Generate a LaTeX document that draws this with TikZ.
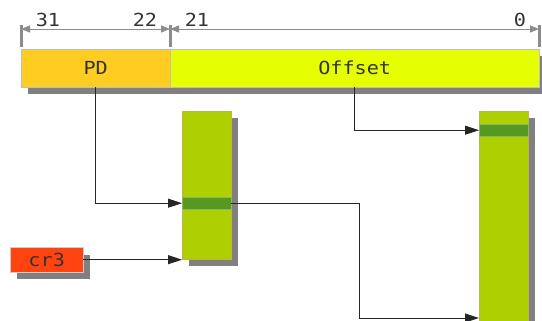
\documentclass[tikz,border=0pt]{standalone}
\usepackage{fontspec}
\setmonofont[FakeStretch=1.12]{DejaVu Sans Mono}
\usetikzlibrary{arrows.meta,shadows}
\definecolor{pdcol}{HTML}{FFCC22}
\definecolor{offcol}{HTML}{E5FF00}
\definecolor{tabcol}{HTML}{AFD000}
\definecolor{entcol}{HTML}{559922}
\definecolor{regcol}{HTML}{FF4411}
\definecolor{shadowcol}{HTML}{808080}
\definecolor{textcol}{HTML}{333333}
\begin{document}
\begin{tikzpicture}[x=1pt,y=-1pt]
        \tikzstyle{every node}=[inner sep=0pt, font=\ttfamily\fontsize{18}{18}\selectfont, text=textcol];
        \tikzstyle{box}=[draw=black!25, anchor=north west, general shadow={fill=shadowcol, shadow xshift=7pt, shadow yshift=-7pt}];
        \tikzstyle{entry}=[fill=entcol, draw=entcol!70!white, anchor=north west, minimum width=49pt, minimum height=12pt];
        \tikzstyle{dim}=[draw=black!45, line width=0.9pt, {Triangle[length=9pt,width=7pt]}-{Triangle[length=9pt,width=7pt]}];
        \tikzstyle{tick}=[draw=black!45, line width=3pt];
        \tikzstyle{link}=[draw=black!85, line width=0.9pt, -{Triangle[length=14pt,width=9pt]}];
        \useasboundingbox (0,0) rectangle (542,321);

        \coordinate (b31) at (21,29);
        \coordinate (b22) at (170,29);
        \coordinate (b0) at (539,29);
        \draw[tick] (b31) ++(0,-4) -- ++(0,22);
        \draw[tick] (b22) ++(0,-4) -- ++(0,22);
        \draw[tick] (b0) ++(0,-4) -- ++(0,22);
        \draw[dim] (b31) -- (b22);
        \draw[dim] (b22) -- (b0);
        \node (n31) at (48,20) {31};
        \node (n22) at (145,20) {22};
        \node (n21) at (197,20) {21};
        \node (n0) at (520,20) {0};

        \node[box, fill=pdcol, minimum width=149pt, minimum height=38pt] (pd) at (21,49) {PD};
        \node[box, fill=offcol, minimum width=369pt, minimum height=38pt] (off) at (170,49) {Offset};

        \node[box, fill=tabcol, draw=olive!60, minimum width=49pt, minimum height=148pt] (tab1) at (182,111) {};
        \node[entry] (ent1) at (182,197) {};
        \node[box, fill=tabcol, draw=olive!60, minimum width=49pt, minimum height=212pt] (tab2) at (479,111) {};
        \node[entry] (ent2) at (479,124) {};

        \node[box, fill=regcol, draw=black!20, minimum width=73pt, minimum height=24pt] (cr3) at (10,247.5) {cr3};

        \coordinate (low) at (479,318);
        \draw[link] (pd.south) |- (ent1.west);
        \draw[link] (off.south) |- (ent2.west);
        \draw[link] (ent1.east) -- ++(128,0) |- (low);
        \draw[link] (cr3.east) -- (cr3.east -| tab1.west);
\end{tikzpicture}
\end{document}
